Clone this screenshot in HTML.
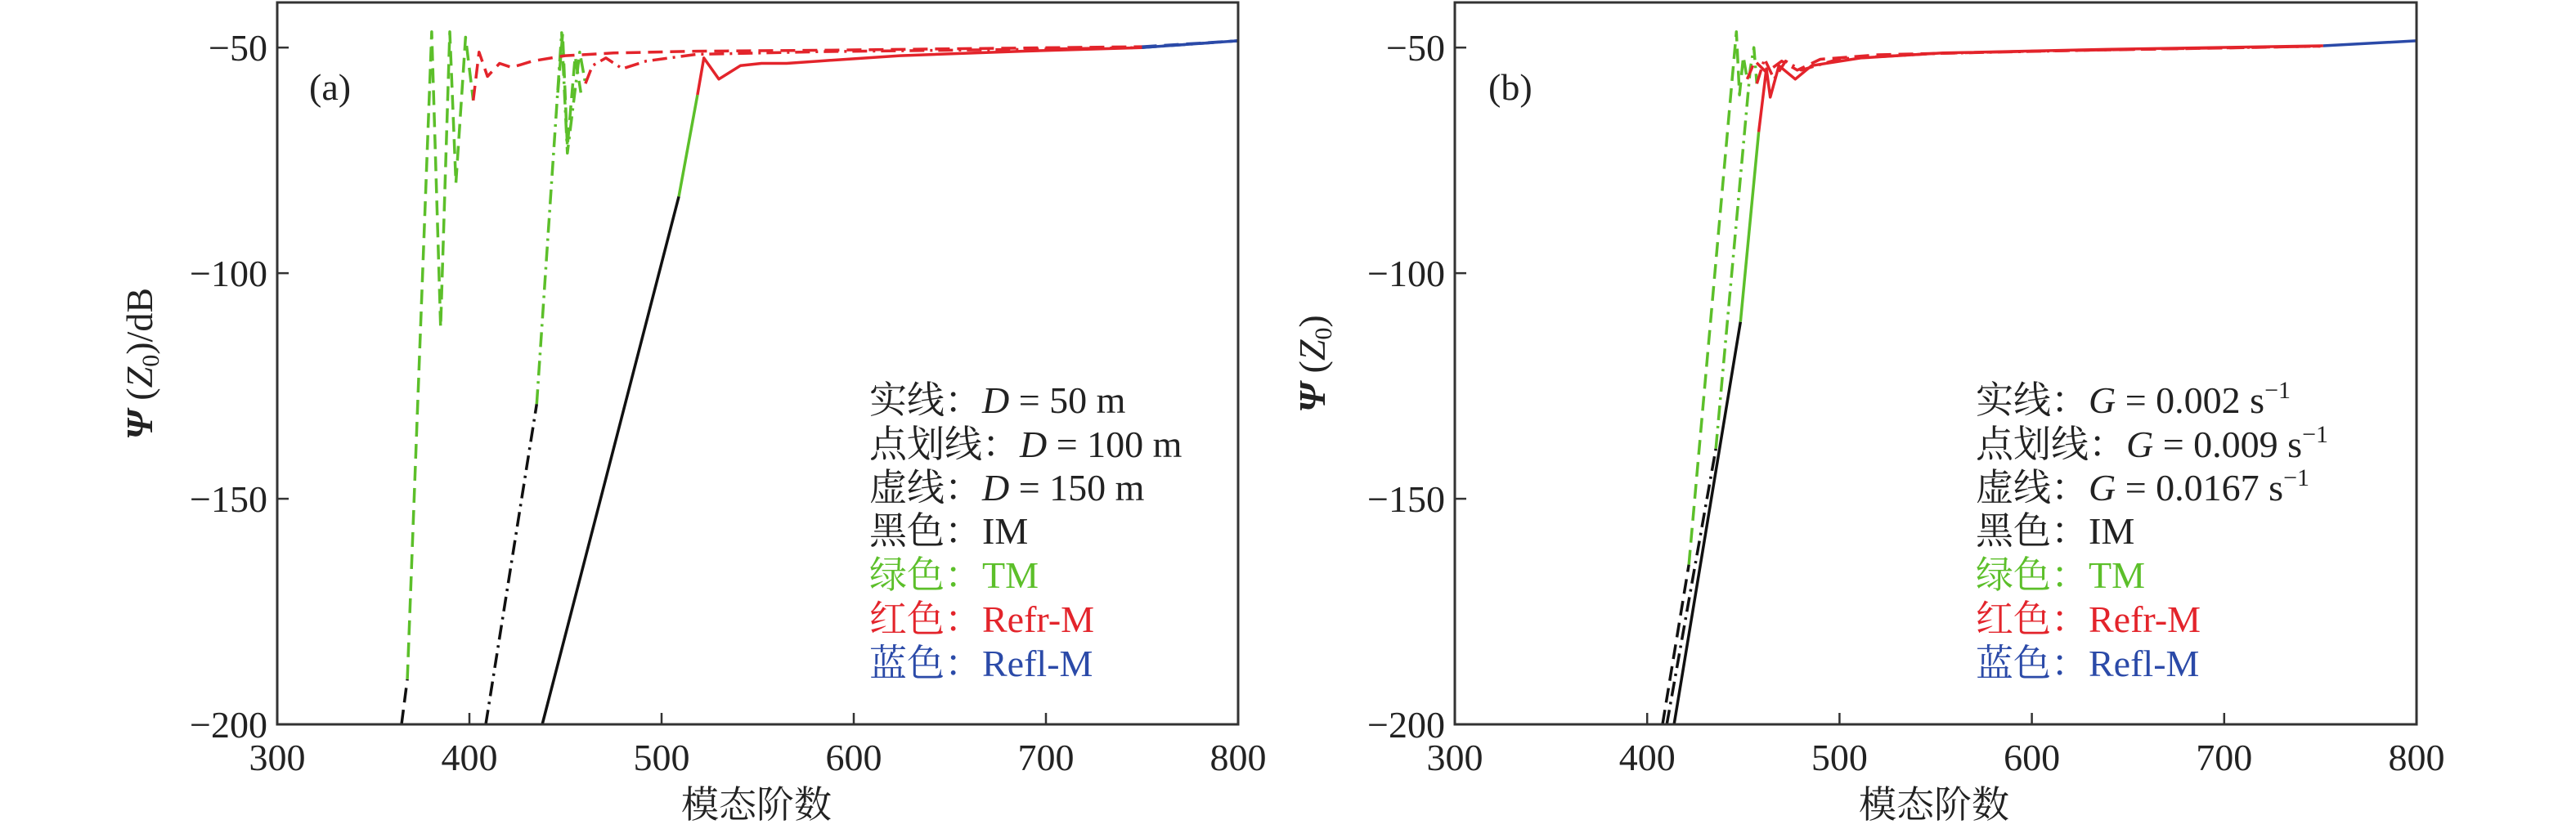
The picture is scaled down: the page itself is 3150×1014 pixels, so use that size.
<!DOCTYPE html>
<html><head><meta charset="utf-8">
<style>
html,body{margin:0;padding:0;background:#fff;}
svg{display:block;}
text{font-family:"Liberation Serif","Noto Serif CJK SC",serif;}
</style></head>
<body>
<svg id="fig" width="3150" height="1014" viewBox="0 0 3150 1014" xmlns="http://www.w3.org/2000/svg"></svg>
<script>
// ===== chart data =====
const xTicks = [300, 400, 500, 600, 700, 800];
const yTicks = [-50, -100, -150, -200];
const xDomain = [300, 800];
const yDomain = [-200, -40];

// Panel (a) — solid (D=50 m)
const aSolidIMx = [437.9, 509];           const aSolidIMy = [-200, -83];
const aSolidTMx = [509, 518.7];           const aSolidTMy = [-83, -60.5];
const aSolidRefrx = [518.7, 522, 529.8, 541, 552, 565, 582, 624, 688, 750];
const aSolidRefry = [-60.5, -52.3, -57, -54, -53.5, -53.5, -53, -51.8, -50.8, -50];
const aSolidReflx = [750, 800];           const aSolidRefly = [-50, -48.5];
// Panel (a) — dash-dot (D=100 m)
const aDDIMx = [408.5, 435];              const aDDIMy = [-200, -129];
const aDDTMx = [435, 448, 451, 457.4, 460.4]; const aDDTMy = [-129, -46.7, -73.4, -51, -58];
const aDDRefrx = [460.4, 464, 471, 479.6, 492, 518, 582, 688, 750];
const aDDRefry = [-58, -54, -52.3, -54.7, -53, -51.5, -50.9, -50.4, -50];
const aDDReflx = [750, 800];              const aDDRefly = [-50, -48.5];
// Panel (a) — dashed (D=150 m)
const aDaIMx = [364.7, 367.7];            const aDaIMy = [-200, -190];
const aDaTMx = [367.7, 380.4, 385, 389.8, 393, 398, 402]; const aDaTMy = [-190, -46.5, -112, -46.5, -80, -47.7, -61.7];
const aDaTM2x = [446, 448.5, 451, 455, 458];  const aDaTM2y = [-60, -47, -72, -52, -60];
const aDaRefrx = [402, 405, 409.4, 415.7, 422, 432.8, 449.8, 475, 518, 582, 750];
const aDaRefry = [-61.7, -51, -56.4, -53.5, -54.4, -53, -51.8, -51.2, -50.8, -50.6, -49.8];
const aDaReflx = [750, 800];              const aDaRefly = [-49.8, -48.5];

// Panel (b) — solid (G=0.002)
const bSolidIMx = [414, 448.5];           const bSolidIMy = [-200, -110.8];
const bSolidTMx = [448.5, 458];           const bSolidTMy = [-110.8, -68.7];
const bSolidRefrx = [458, 462, 464, 468.5, 477, 485.5, 511, 553.6, 638.7, 751.5];
const bSolidRefry = [-68.7, -54.7, -61, -54, -57, -54, -52.3, -51.2, -50.4, -49.6];
const bSolidReflx = [751.5, 800];         const bSolidRefly = [-49.6, -48.5];
// Panel (b) — dash-dot (G=0.009)
const bDDIMx = [410.2, 435.7];            const bDDIMy = [-200, -138.9];
const bDDTMx = [435.7, 453.6, 455.5, 457]; const bDDTMy = [-138.9, -54.7, -50, -58];
const bDDRefrx = [457, 461, 466, 472, 480, 500, 550, 640, 750];
const bDDRefry = [-58, -52.5, -57, -53, -55, -52.5, -51.3, -50.5, -49.7];
// Panel (b) — dashed (G=0.0167)
const bDaIMx = [408, 421.7];              const bDaIMy = [-200, -164.6];
const bDaTMx = [421.7, 446.4, 448, 450, 452]; const bDaTMy = [-164.6, -46.5, -60.5, -52, -57];
const bDaRefrx = [452, 456, 462, 470, 478, 490, 520, 600, 700, 750];
const bDaRefry = [-57, -53, -55.5, -53, -55, -52.6, -51.6, -50.8, -50.1, -49.7];

// ===== rendering =====
const NS = "http://www.w3.org/2000/svg";
const svg = document.getElementById('fig');
const C = {IM:'#111111', TM:'#5cbf2a', Refr:'#e3242b', Refl:'#2b4aa8'};
const DASH = {solid:null, dashdot:'18,7,3,7', dashed:'18,9'};

function mk(tag, attrs, parent){
  const e = document.createElementNS(NS, tag);
  for (const k in attrs) e.setAttribute(k, attrs[k]);
  (parent||svg).appendChild(e);
  return e;
}

function makePanel(left, right, top, bottom){
  const sx = v => left + (v - xDomain[0]) / (xDomain[1] - xDomain[0]) * (right - left);
  const sy = v => bottom - (v - yDomain[0]) / (yDomain[1] - yDomain[0]) * (bottom - top);
  return {sx, sy, left, right, top, bottom};
}

function drawAxes(p, tag){
  const g = mk('g', {});
  
  
  xTicks.forEach(t => {
    const x = p.sx(t);
    const tk = mk('line', {x1:x, x2:x, y1:p.bottom, y2:p.bottom-14, stroke:'#333', 'stroke-width':2.5}, g);
    
    
    const lb = mk('text', {x:x, y:p.bottom+56, 'text-anchor':'middle', 'font-size':46, style:'fill:#222'}, g);
    lb.textContent = t;
    
    
  });
  yTicks.forEach(t => {
    const y = p.sy(t);
    const tk = mk('line', {x1:p.left, x2:p.left+14, y1:y, y2:y, stroke:'#333', 'stroke-width':2.5}, g);
    
    
    const lb = mk('text', {x:p.left-12, y:y+16, 'text-anchor':'end', 'font-size':46, style:'fill:#222'}, g);
    lb.textContent = '\u2212' + Math.abs(t);
    
    
  });
}

function drawLine(p, xs, ys, color, style, name){
  const d = xs.map((x,i) => (i?'L':'M') + p.sx(x).toFixed(1) + ',' + p.sy(ys[i]).toFixed(1)).join(' ');
  const a = {d:d, fill:'none', stroke:color, 'stroke-width':3.5, 'stroke-linejoin':'round'};
  if (DASH[style]) a['stroke-dasharray'] = DASH[style];
  const e = mk('path', a);
  
  
}

function drawFrame(p, tag){
  const r = mk('rect', {x:p.left, y:p.top, width:p.right-p.left, height:p.bottom-p.top, fill:'none', stroke:'#333', 'stroke-width':3});
  
  
}

const pa = makePanel(339, 1514, 3, 886);
const pb = makePanel(1779, 2955, 3, 886);

drawLine(pa, aSolidIMx, aSolidIMy, C.IM, 'solid', 'a-solid-im');
drawLine(pa, aSolidTMx, aSolidTMy, C.TM, 'solid', 'a-solid-tm');
drawLine(pa, aSolidRefrx, aSolidRefry, C.Refr, 'solid', 'a-solid-refr');
drawLine(pa, aSolidReflx, aSolidRefly, C.Refl, 'solid', 'a-solid-refl');
drawLine(pa, aDDIMx, aDDIMy, C.IM, 'dashdot', 'a-dashdot-im');
drawLine(pa, aDDTMx, aDDTMy, C.TM, 'dashdot', 'a-dashdot-tm');
drawLine(pa, aDDRefrx, aDDRefry, C.Refr, 'dashdot', 'a-dashdot-refr');
drawLine(pa, aDDReflx, aDDRefly, C.Refl, 'dashdot', 'a-dashdot-refl');
drawLine(pa, aDaIMx, aDaIMy, C.IM, 'dashed', 'a-dashed-im');
drawLine(pa, aDaTMx, aDaTMy, C.TM, 'dashed', 'a-dashed-tm');
drawLine(pa, aDaTM2x, aDaTM2y, C.TM, 'dashed', 'a-dashed-tm-2');
drawLine(pa, aDaRefrx, aDaRefry, C.Refr, 'dashed', 'a-dashed-refr');
drawLine(pa, aDaReflx, aDaRefly, C.Refl, 'dashed', 'a-dashed-refl');
drawLine(pb, bSolidIMx, bSolidIMy, C.IM, 'solid', 'b-solid-im');
drawLine(pb, bSolidTMx, bSolidTMy, C.TM, 'solid', 'b-solid-tm');
drawLine(pb, bSolidRefrx, bSolidRefry, C.Refr, 'solid', 'b-solid-refr');
drawLine(pb, bSolidReflx, bSolidRefly, C.Refl, 'solid', 'b-solid-refl');
drawLine(pb, bDDIMx, bDDIMy, C.IM, 'dashdot', 'b-dashdot-im');
drawLine(pb, bDDTMx, bDDTMy, C.TM, 'dashdot', 'b-dashdot-tm');
drawLine(pb, bDDRefrx, bDDRefry, C.Refr, 'dashdot', 'b-dashdot-refr');
drawLine(pb, bDaIMx, bDaIMy, C.IM, 'dashed', 'b-dashed-im');
drawLine(pb, bDaTMx, bDaTMy, C.TM, 'dashed', 'b-dashed-tm');
drawLine(pb, bDaRefrx, bDaRefry, C.Refr, 'dashed', 'b-dashed-refr');

drawFrame(pa, 'a'); drawFrame(pb, 'b');
drawAxes(pa, 'a'); drawAxes(pb, 'b');
</script>
<svg style="position:absolute;left:0;top:0" width="3150" height="1014" xmlns="http://www.w3.org/2000/svg">
  <g font-family="Liberation Serif, Noto Serif CJK SC, serif" font-size="46">
    <text x="378" y="122" style="fill:#222">(a)</text>
    <text x="1820" y="122" style="fill:#222">(b)</text>

    <text x="925" y="1000" text-anchor="middle" style="fill:#222">模态阶数</text>
    <text x="2365" y="1000" text-anchor="middle" style="fill:#222">模态阶数</text>

    <text transform="translate(186,445) rotate(-90)" text-anchor="middle" style="fill:#222"><tspan font-style="italic" font-weight="bold">Ψ</tspan> (<tspan font-style="italic">Z</tspan><tspan font-size="30" dy="8">0</tspan><tspan dy="-8">)/dB</tspan></text>
    <text transform="translate(1620,445) rotate(-90)" text-anchor="middle" style="fill:#222"><tspan font-style="italic" font-weight="bold">Ψ</tspan> (<tspan font-style="italic">Z</tspan><tspan font-size="30" dy="8">0</tspan><tspan dy="-8">)</tspan></text>

    <g>
      <text x="1063" y="505" style="fill:#222">实线：<tspan font-style="italic">D</tspan> = 50 m</text>
      <text x="1063" y="559" style="fill:#222">点划线：<tspan font-style="italic">D</tspan> = 100 m</text>
      <text x="1063" y="612" style="fill:#222">虚线：<tspan font-style="italic">D</tspan> = 150 m</text>
      <text x="1063" y="665" style="fill:#222">黑色：IM</text>
      <text x="1063" y="719" style="fill:#5cbf2a">绿色：TM</text>
      <text x="1063" y="773" style="fill:#e3242b">红色：Refr-M</text>
      <text x="1063" y="827" style="fill:#2b4aa8">蓝色：Refl-M</text>
    </g>
    <g>
      <text x="2416" y="505" style="fill:#222">实线：<tspan font-style="italic">G</tspan> = 0.002 s<tspan font-size="30" dy="-18">−1</tspan></text>
      <text x="2416" y="559" style="fill:#222">点划线：<tspan font-style="italic">G</tspan> = 0.009 s<tspan font-size="30" dy="-18">−1</tspan></text>
      <text x="2416" y="612" style="fill:#222">虚线：<tspan font-style="italic">G</tspan> = 0.0167 s<tspan font-size="30" dy="-18">−1</tspan></text>
      <text x="2416" y="665" style="fill:#222">黑色：IM</text>
      <text x="2416" y="719" style="fill:#5cbf2a">绿色：TM</text>
      <text x="2416" y="773" style="fill:#e3242b">红色：Refr-M</text>
      <text x="2416" y="827" style="fill:#2b4aa8">蓝色：Refl-M</text>
    </g>
  </g>
</svg>
</body></html>
